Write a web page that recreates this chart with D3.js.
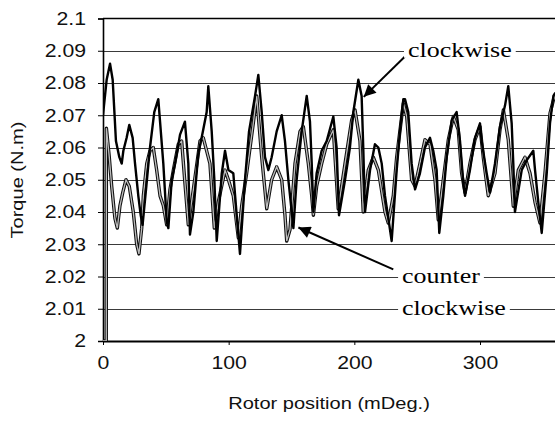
<!DOCTYPE html>
<html>
<head>
<meta charset="utf-8">
<script src="https://cdn.jsdelivr.net/npm/d3@7"></script>
<style>
  body { margin: 0; background: #fff; }
  text { font-family: Arial, "Liberation Sans", sans-serif; }
</style>
</head>
<body>
<svg id="chart" width="555" height="421"></svg>
<script>
// rotor position (mDeg.) / torque (N.m)
const clockwise = [
  [0, 2.070], [2.9, 2.081], [5.6, 2.086], [7.7, 2.081], [8.8, 2.073], [10.3, 2.062], [13.0, 2.057],
  [14.9, 2.055], [16.2, 2.059], [18.8, 2.063], [20.9, 2.067], [23.6, 2.063], [25.5, 2.055], [28.1, 2.045],
  [30.0, 2.039], [31.5, 2.036], [34.5, 2.048], [37.4, 2.060], [40.8, 2.071], [44.0, 2.075], [45.4, 2.068],
  [48.0, 2.055], [50.7, 2.037], [52.0, 2.035], [54.7, 2.050], [57.3, 2.055], [61.3, 2.064], [65.2, 2.068],
  [67.9, 2.055], [69.2, 2.033], [71.9, 2.040], [75.8, 2.058], [78.5, 2.063], [82.5, 2.071], [83.8, 2.079],
  [86.5, 2.065], [88.6, 2.050], [90.5, 2.031], [94.5, 2.052], [97.1, 2.059], [99.8, 2.053], [103.7, 2.052],
  [106.4, 2.039], [109.0, 2.027], [113.0, 2.050], [116.2, 2.065], [121.0, 2.076], [123.6, 2.0825],
  [126.3, 2.071], [128.9, 2.057], [131.6, 2.053], [134.2, 2.057], [138.2, 2.065], [142.2, 2.070],
  [144.8, 2.062], [147.5, 2.050], [150.2, 2.040], [151.5, 2.035], [154.1, 2.050], [158.1, 2.065],
  [162.1, 2.076], [164.7, 2.068], [166.1, 2.055], [167.4, 2.040], [170.0, 2.052], [174.0, 2.059],
  [178.0, 2.062], [183.3, 2.0696], [185.9, 2.060], [187.8, 2.039], [192.6, 2.050], [196.5, 2.060],
  [199.2, 2.071], [203.2, 2.081], [205.8, 2.076], [207.1, 2.060], [208.5, 2.040], [212.5, 2.053],
  [216.4, 2.061], [219.1, 2.060], [221.8, 2.055], [224.4, 2.045], [228.4, 2.0345], [229.7, 2.031],
  [233.7, 2.053], [236.3, 2.065], [239.0, 2.075], [240.3, 2.075], [242.9, 2.071], [245.6, 2.055],
  [248.3, 2.047], [252.2, 2.052], [256.2, 2.060], [260.2, 2.063], [262.8, 2.059], [265.5, 2.053],
  [266.8, 2.041], [267.6, 2.0335], [270.8, 2.045], [273.5, 2.057], [277.5, 2.0685], [281.4, 2.071],
  [284.1, 2.062], [286.7, 2.049], [288.1, 2.045], [292.0, 2.053], [296.0, 2.063], [300.0, 2.0675],
  [301.3, 2.062], [305.3, 2.052], [308.0, 2.046], [311.9, 2.055], [315.9, 2.0665], [319.9, 2.073],
  [322.5, 2.079], [325.2, 2.0675], [326.5, 2.055], [327.8, 2.040], [333.2, 2.053], [337.1, 2.056],
  [342.4, 2.059], [343.8, 2.053], [346.4, 2.043], [349.1, 2.0335], [353.1, 2.052], [355.7, 2.0675],
  [358.4, 2.076], [360, 2.077]
];

const counterClockwise = [
  [0, 2.0], [2.6, 2.0], [2.7, 2.066], [5.0, 2.057], [6.9, 2.048], [9.5, 2.038], [11.4, 2.035],
  [13.5, 2.042], [15.7, 2.046], [18.3, 2.050], [20.9, 2.048], [24.1, 2.040], [26.8, 2.030], [28.6, 2.027],
  [30.8, 2.035], [32.1, 2.045], [34.8, 2.055], [37.4, 2.059], [40.0, 2.060], [42.7, 2.053], [45.4, 2.045],
  [48.0, 2.042], [50.7, 2.036], [53.3, 2.047], [56.0, 2.053], [59.9, 2.061], [62.6, 2.062], [65.0, 2.050],
  [67.9, 2.036], [71.9, 2.047], [77.2, 2.062], [79.8, 2.063], [85.1, 2.055], [88.6, 2.035], [91.7, 2.043],
  [97.1, 2.053], [99.8, 2.050], [103.7, 2.045], [107.7, 2.032], [110.4, 2.042], [114.3, 2.052],
  [119.6, 2.0675], [122.3, 2.076], [126.3, 2.057], [130.3, 2.041], [134.2, 2.050], [138.2, 2.054],
  [142.2, 2.050], [144.8, 2.039], [146.2, 2.031], [148.8, 2.0345], [152.8, 2.055], [156.8, 2.065],
  [159.4, 2.0665], [163.4, 2.055], [166.1, 2.045], [167.4, 2.039], [170.0, 2.048], [174.0, 2.055],
  [178.0, 2.061], [183.3, 2.0655], [187.2, 2.041], [192.6, 2.055], [197.9, 2.0685], [200.5, 2.0717],
  [204.5, 2.062], [207.1, 2.040], [211.1, 2.053], [215.1, 2.057], [219.1, 2.053], [224.4, 2.040],
  [227.0, 2.0366], [231.0, 2.045], [233.7, 2.057], [237.7, 2.0696], [239.0, 2.0737], [241.7, 2.0696],
  [245.6, 2.050], [248.3, 2.048], [252.2, 2.055], [256.2, 2.0624], [260.2, 2.061], [264.2, 2.050],
  [266.8, 2.0376], [270.8, 2.050], [274.8, 2.0624], [278.8, 2.0696], [282.7, 2.0655], [285.4, 2.052],
  [288.1, 2.046], [292.0, 2.055], [296.0, 2.0624], [300.0, 2.0665], [302.6, 2.057], [306.6, 2.045],
  [311.9, 2.052], [315.9, 2.0655], [318.6, 2.0716], [322.5, 2.0624], [326.5, 2.0418], [330.5, 2.053],
  [335.8, 2.057], [339.8, 2.052], [343.8, 2.043], [347.7, 2.0366], [351.7, 2.052], [355.7, 2.0706],
  [358.4, 2.0747], [360, 2.076]
];

const yTicks = [2, 2.01, 2.02, 2.03, 2.04, 2.05, 2.06, 2.07, 2.08, 2.09, 2.1];
const xTicks = [0, 100, 200, 300];

// annotation anchors in data units: label position, arrow tail, arrow tip
const cwNote = { text: ["clockwise"], at: [242.7, 2.09], from: [240.3, 2.0882], to: [207.5, 2.0757] };
const ccwNote = { text: ["counter", "clockwise"], at: [238, 2.02], from: [231, 2.0222], to: [155.5, 2.0352] };

const svg = d3.select("#chart");
const stretch = 1.18;

const x = d3.scaleLinear().domain([0, 360]).range([103, 555.4]);
const y = d3.scaleLinear().domain([2, 2.1]).range([341, 18.5]);

// grid
svg.append("g")
  .selectAll("line")
  .data(yTicks.slice(1, -1))
  .join("line")
  .attr("x1", x(0)).attr("x2", 555)
  .attr("y1", d => Math.round(y(d)) + 0.5).attr("y2", d => Math.round(y(d)) + 0.5)
  .attr("stroke", "#3a3a3a").attr("stroke-width", 1);

svg.append("line")
  .attr("x1", x(0)).attr("x2", 555)
  .attr("y1", y(2.1)).attr("y2", y(2.1))
  .attr("stroke", "#000").attr("stroke-width", 1.6);

// axes
const yAxis = svg.append("g")
  .attr("transform", `translate(${x(0)},0)`)
  .call(d3.axisLeft(y).tickValues(yTicks).tickSize(5).tickFormat(d => d3.format("")(+d.toFixed(2))));
yAxis.select(".domain").attr("stroke-width", 1.6);
yAxis.selectAll(".tick text")
  .attr("x", 0)
  .attr("transform", `translate(-17,0) scale(${stretch},1)`)
  .style("font-size", "18px").attr("fill", "#111");

const xAxis = svg.append("g")
  .attr("transform", `translate(0,${y(2)})`)
  .call(d3.axisBottom(x).tickValues(xTicks).tickSize(4).tickSizeOuter(0));
xAxis.select(".domain").attr("stroke-width", 1.8);
xAxis.selectAll(".tick text")
  .attr("y", 15)
  .attr("transform", `scale(${stretch},1)`)
  .style("font-size", "18px").attr("fill", "#111");

// series
svg.append("clipPath").attr("id", "plot")
  .append("rect").attr("x", x(0)).attr("y", y(2.1)).attr("width", 555 - x(0)).attr("height", y(2) - y(2.1));

const line = d3.line().x(d => x(d[0])).y(d => y(d[1]));

const series = svg.append("g").attr("clip-path", "url(#plot)");
series.append("path").datum(counterClockwise)
  .attr("d", line).attr("fill", "none")
  .attr("stroke", "#111").attr("stroke-width", 3.4).attr("stroke-linejoin", "round");
series.append("path").datum(counterClockwise)
  .attr("d", line).attr("fill", "none")
  .attr("stroke", "#bdbdbd").attr("stroke-width", 1.3);
series.append("path").datum(clockwise)
  .attr("d", line).attr("fill", "none")
  .attr("stroke", "#000").attr("stroke-width", 2.4).attr("stroke-linejoin", "round");

// annotations
svg.append("defs").append("marker")
  .attr("id", "head").attr("viewBox", "0 0 10 10")
  .attr("refX", 10).attr("refY", 5)
  .attr("markerWidth", 7).attr("markerHeight", 6)
  .attr("markerUnits", "strokeWidth")
  .attr("orient", "auto")
  .append("path").attr("d", "M0,0L10,5L0,10z").attr("fill", "#000");

[cwNote, ccwNote].forEach(note => {
  svg.append("line")
    .attr("x1", x(note.from[0])).attr("y1", y(note.from[1]))
    .attr("x2", x(note.to[0])).attr("y2", y(note.to[1]))
    .attr("stroke", "#000").attr("stroke-width", 2)
    .attr("marker-end", "url(#head)");

  note.text.forEach((t, i) => {
    const ty = y(note.at[1] - i * 0.01);
    const g = svg.append("g").attr("transform", `translate(${x(note.at[0])},${ty})`);
    const label = g.append("text")
      .attr("transform", `scale(${stretch},1)`)
      .attr("dy", "0.3em")
      .style("font-family", "'Liberation Serif', 'Times New Roman', serif")
      .style("font-size", "22px")
      .text(t);
    const w = label.node().getBBox().width * stretch;
    g.insert("rect", "text")
      .attr("x", -4).attr("y", -9).attr("width", w + 8).attr("height", 16)
      .attr("fill", "#fff");
  });
});

// axis titles
svg.append("text")
  .attr("transform", `translate(329,409) scale(${stretch},1)`)
  .attr("text-anchor", "middle")
  .style("font-size", "17px").attr("fill", "#111")
  .text("Rotor position (mDeg.)");

svg.append("text")
  .attr("transform", `translate(23,180) rotate(-90) scale(${stretch},1)`)
  .attr("text-anchor", "middle")
  .style("font-size", "17px").attr("fill", "#111")
  .text("Torque (N.m)");
</script>
</body>
</html>
